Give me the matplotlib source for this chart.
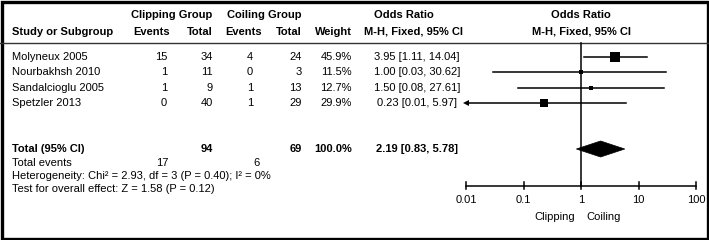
import numpy as np
import matplotlib
matplotlib.use('Agg')
import matplotlib.pyplot as plt
from matplotlib.patches import Rectangle, Polygon

plt.rcParams['font.family'] = ['Liberation Sans', 'DejaVu Sans']

# data
studies = ['Molyneux 2005', 'Nourbakhsh 2010', 'Sandalcioglu 2005', 'Spetzler 2013']
clip_events = [15, 1, 1, 0]
clip_total = [34, 11, 9, 40]
coil_events = [4, 0, 1, 1]
coil_total = [24, 3, 13, 29]
weights = [45.9, 11.5, 12.7, 29.9]
odds = [3.95, 1.00, 1.50, 0.23]
ci_lo = [1.11, 0.03, 0.08, 0.01]
ci_hi = [14.04, 30.62, 27.61, 5.97]

tot_clip, tot_coil = 94, 69
tot_ev_clip, tot_ev_coil = 17, 6
pooled, pooled_lo, pooled_hi = 2.19, 0.83, 5.78
heterog = 'Heterogeneity: Chi\u00b2 = 2.93, df = 3 (P = 0.40); I\u00b2 = 0%'
overall = 'Test for overall effect: Z = 1.58 (P = 0.12)'
ticks = [0.01, 0.1, 1, 10, 100]
tick_labels = ['0.01', '0.1', '1', '10', '100']

W, H = 709, 240
fig = plt.figure(figsize=(W / 100, H / 100), dpi=100)
tx = fig.add_axes([0, 0, 1, 1])
tx.set_xlim(0, W)
tx.set_ylim(H, 0)
tx.axis('off')

fs = 8
row_y = [57 + i * 15.4 for i in range(len(studies))]

# header
tx.text(172, 15, 'Clipping Group', ha='center', va='center', fontsize=fs, fontweight='bold')
tx.text(264, 15, 'Coiling Group', ha='center', va='center', fontsize=fs, fontweight='bold')
tx.text(404, 15, 'Odds Ratio', ha='center', va='center', fontsize=fs, fontweight='bold')
tx.text(581, 15, 'Odds Ratio', ha='center', va='center', fontsize=fs, fontweight='bold')
tx.text(12, 32, 'Study or Subgroup', ha='left', va='center', fontsize=fs, fontweight='bold')
for lab, xr in [('Events', 170), ('Total', 213), ('Events', 262), ('Total', 302), ('Weight', 352)]:
    tx.text(xr, 32, lab, ha='right', va='center', fontsize=fs, fontweight='bold')
tx.text(414, 32, 'M-H, Fixed, 95% CI', ha='center', va='center', fontsize=fs, fontweight='bold')
tx.text(582, 32, 'M-H, Fixed, 95% CI', ha='center', va='center', fontsize=fs, fontweight='bold')
tx.plot([0, W], [43, 43], color='#333333', lw=1.0)

# study rows
for i, y in enumerate(row_y):
    tx.text(12, y, studies[i], ha='left', va='center', fontsize=fs)
    tx.text(167, y, str(clip_events[i]), ha='right', va='center', fontsize=fs)
    tx.text(213, y, str(clip_total[i]), ha='right', va='center', fontsize=fs)
    tx.text(253, y, str(coil_events[i]), ha='right', va='center', fontsize=fs)
    tx.text(302, y, str(coil_total[i]), ha='right', va='center', fontsize=fs)
    tx.text(352, y, '%.1f%%' % weights[i], ha='right', va='center', fontsize=fs)
    tx.text(417, y, '%.2f [%.2f, %.2f]' % (odds[i], ci_lo[i], ci_hi[i]),
            ha='center', va='center', fontsize=fs)

# totals
ty = 149
tx.text(12, ty, 'Total (95% CI)', ha='left', va='center', fontsize=fs, fontweight='bold')
tx.text(213, ty, str(tot_clip), ha='right', va='center', fontsize=fs, fontweight='bold')
tx.text(302, ty, str(tot_coil), ha='right', va='center', fontsize=fs, fontweight='bold')
tx.text(352, ty, '%.1f%%' % sum(weights), ha='right', va='center', fontsize=fs, fontweight='bold')
tx.text(417, ty, '%.2f [%.2f, %.2f]' % (pooled, pooled_lo, pooled_hi),
        ha='center', va='center', fontsize=fs, fontweight='bold')
tx.text(12, 163, 'Total events', ha='left', va='center', fontsize=fs)
tx.text(168, 163, str(tot_ev_clip), ha='right', va='center', fontsize=fs)
tx.text(260, 163, str(tot_ev_coil), ha='right', va='center', fontsize=fs)
tx.text(12, 176, heterog, ha='left', va='center', fontsize=fs)
tx.text(12, 189, overall, ha='left', va='center', fontsize=fs)

# border
tx.add_patch(Rectangle((1.5, 1.5), W - 3, H - 3, fill=False, ec='black', lw=2.4, clip_on=False))

# forest plot
fx = fig.add_axes([466 / W, 0, 230 / W, 1])
fx.set_xscale('log')
fx.set_xlim(ticks[0], ticks[-1])
fx.set_ylim(H, 0)
fx.axis('off')

axis_y = 186
fx.plot([1, 1], [43, axis_y], color='black', lw=1.1)
fx.plot([ticks[0], ticks[-1]], [axis_y, axis_y], color='black', lw=1.1, clip_on=False)
for t, lab in zip(ticks, tick_labels):
    fx.plot([t, t], [axis_y - 4, axis_y + 3], color='black', lw=1.1, clip_on=False)
    fx.text(t, 200, lab, ha='center', va='center', fontsize=fs)
fx.text(0.8, 217, 'Clipping', ha='right', va='center', fontsize=fs)
fx.text(1.25, 217, 'Coiling', ha='left', va='center', fontsize=fs)

for i, y in enumerate(row_y):
    lo = max(ci_lo[i], ticks[0])
    fx.plot([lo, ci_hi[i]], [y, y], color='black', lw=1.1, clip_on=False)
    fx.plot(odds[i], y, marker='s', color='black', ms=0.96 * np.sqrt(weights[i]), mew=0)
    if ci_lo[i] <= ticks[0]:
        fx.plot(ticks[0], y, marker='<', color='black', ms=4, mew=0, clip_on=False)

fx.add_patch(Polygon([(pooled_lo, ty), (pooled, ty - 8), (pooled_hi, ty), (pooled, ty + 8)],
                     closed=True, fc='black', ec='black', lw=0.5))

fig.savefig('out.png', dpi=100)
